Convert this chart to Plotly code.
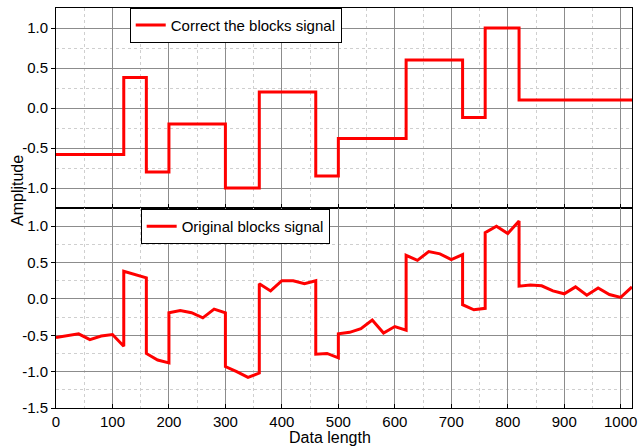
import plotly.graph_objects as go
from plotly.subplots import make_subplots

# Corrected (step) signal: breakpoints and levels
step_x = [0, 120, 160, 200, 300, 360, 460, 500, 620, 720, 760, 820, 1020]
step_y = [-0.58, 0.38, -0.80, -0.20, -1.00, 0.20, -0.85, -0.38, 0.60, -0.12, 1.00, 0.10, 0.10]

# Original signal (duplicated x where there is a jump)
orig_x = [0, 20, 40, 60, 80, 100, 120, 120, 140, 160, 160, 180, 200, 200, 220, 240, 260, 280, 300, 300,
          320, 340, 360, 360, 380, 400, 420, 440, 460, 460, 480, 500, 500, 520, 540, 560, 580, 600, 620, 620,
          640, 660, 680, 700, 720, 720, 740, 760, 760, 780, 800, 820, 820, 840, 860, 880, 900, 920, 940,
          960, 980, 1000, 1020]
orig_y = [-0.53, -0.51, -0.48, -0.56, -0.51, -0.49, -0.65, 0.38, 0.33, 0.29, -0.75, -0.84, -0.88, -0.19,
          -0.16, -0.19, -0.26, -0.14, -0.19, -0.93, -1.00, -1.08, -1.02, 0.21, 0.11, 0.25, 0.25, 0.21, 0.25,
          -0.76, -0.75, -0.81, -0.48, -0.46, -0.41, -0.29, -0.47, -0.38, -0.43, 0.60, 0.53, 0.65, 0.62, 0.54,
          0.61, -0.08, -0.15, -0.13, 0.91, 1.00, 0.90, 1.07, 0.175, 0.19, 0.18, 0.11, 0.07, 0.165, 0.05, 0.15,
          0.06, 0.02, 0.165]

x_ticks = [0, 100, 200, 300, 400, 500, 600, 700, 800, 900, 1000]
x_labels = ["0", "100", "200", "300", "400", "500", "600", "700", "800", "900", "1000"]
top_ticks = [-1.0, -0.5, 0.0, 0.5, 1.0]
top_labels = ["-1.0", "-0.5", "0.0", "0.5", "1.0"]
bot_ticks = [-1.5, -1.0, -0.5, 0.0, 0.5, 1.0]
bot_labels = ["-1.5", "-1.0", "-0.5", "0.0", "0.5", "1.0"]

FONT = "Liberation Sans, Arial, sans-serif"
RED = "#ff0000"

fig = make_subplots(rows=2, cols=1, shared_xaxes=True, vertical_spacing=0.0)

fig.add_trace(go.Scatter(x=step_x, y=step_y, mode="lines", line=dict(color=RED, width=3, shape="hv"),
                         name="Correct the blocks signal", legend="legend"), row=1, col=1)
fig.add_trace(go.Scatter(x=orig_x, y=orig_y, mode="lines", line=dict(color=RED, width=3),
                         name="Original blocks signal", legend="legend2"), row=2, col=1)

grid_major = "#8c8c8c"
grid_minor = "#cfcfcf"

common_x = dict(range=[0, 1020], tickmode="array", tickvals=x_ticks, ticktext=x_labels,
                showline=True, linecolor="black", linewidth=1, mirror=True,
                showgrid=True, gridcolor=grid_major, gridwidth=1,
                ticks="inside", ticklen=4, tickcolor="black",
                minor=dict(showgrid=True, gridcolor=grid_minor, griddash="dot", tickmode="linear",
                           tick0=0, dtick=50),
                zeroline=False, tickfont=dict(family=FONT, size=15, color="black"))
fig.update_xaxes(**common_x)
fig.update_xaxes(showticklabels=False, row=1, col=1)

common_y = dict(showline=True, linecolor="black", linewidth=1, mirror=True,
                showgrid=True, gridcolor=grid_major, gridwidth=1,
                ticks="outside", ticklen=4, tickcolor="black",
                minor=dict(showgrid=True, gridcolor=grid_minor, griddash="dot", tickmode="linear",
                           tick0=0, dtick=0.25),
                zeroline=False, tickfont=dict(family=FONT, size=15, color="black"))
fig.update_yaxes(**common_y)
fig.update_yaxes(range=[-1.25, 1.25], tickmode="array", tickvals=top_ticks, ticktext=top_labels, row=1, col=1)
fig.update_yaxes(range=[-1.5, 1.25], tickmode="array", tickvals=bot_ticks, ticktext=bot_labels, row=2, col=1)

legend_style = dict(bgcolor="white", bordercolor="black", borderwidth=1,
                    font=dict(family=FONT, size=15, color="black"),
                    xanchor="left", yanchor="middle", itemwidth=30, tracegroupgap=0)
fig.update_layout(
    width=643, height=446,
    margin=dict(l=56, r=6, t=8, b=38),
    paper_bgcolor="white", plot_bgcolor="white",
    showlegend=True,
    legend=dict(x=0.128, y=(407.7 - 25.5) / 399.4, **legend_style),
    legend2=dict(x=0.147, y=(407.7 - 226.5) / 399.4, **legend_style),
    annotations=[
        dict(text="Amplitude", xref="paper", yref="paper", x=-0.066, y=0.545, textangle=-90,
             showarrow=False, xanchor="center", yanchor="middle",
             font=dict(family=FONT, size=16, color="black")),
        dict(text="Data length", xref="paper", yref="paper", x=0.475, y=-0.074,
             showarrow=False, xanchor="center", yanchor="middle",
             font=dict(family=FONT, size=16, color="black")),
    ],
)

fig.write_html("out.html")
